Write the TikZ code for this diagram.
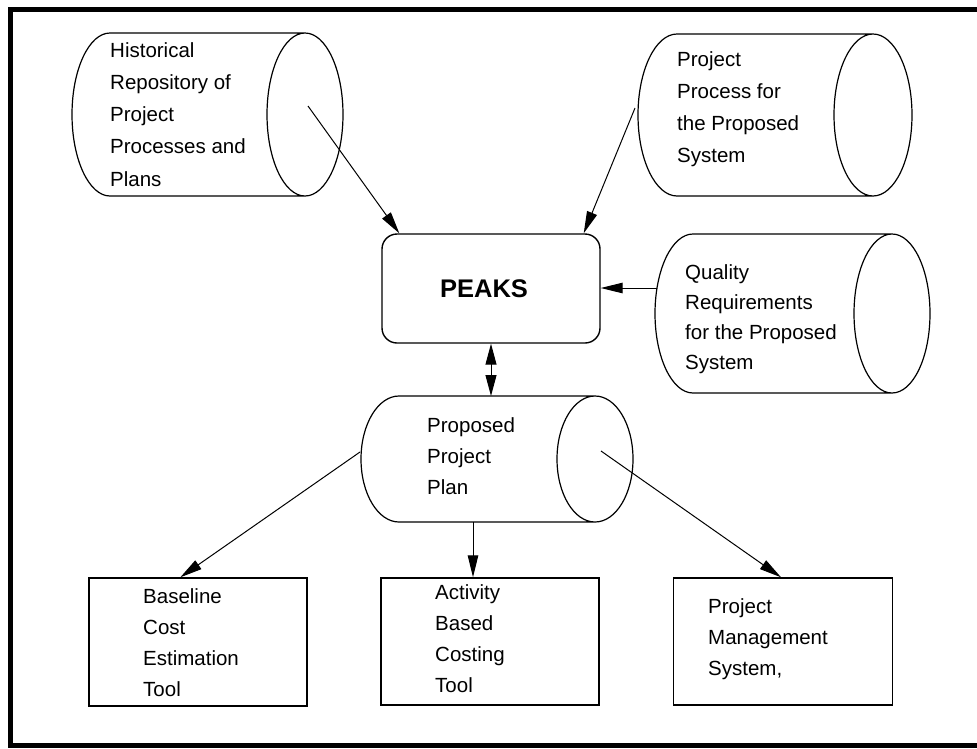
\documentclass[tikz,border=0pt]{standalone}
\usepackage{fontspec}
\setmainfont{Liberation Sans}
\usetikzlibrary{arrows.meta}
\newcommand\drawcyl[6]{%
  \draw[outline] (#1,#3) -- (#2,#3)
    arc[start angle=90,end angle=-90,x radius=#5pt,y radius=#6pt]
    -- (#1,#4)
    arc[start angle=270,end angle=90,x radius=#5pt,y radius=#6pt] -- cycle
    (#2,#3) arc[start angle=90,end angle=270,x radius=#5pt,y radius=#6pt];}
\begin{document}
\begin{tikzpicture}[x=1pt,y=-1pt,
  outline/.style={line width=1.2pt},
  boxnode/.style={draw, line width=1.4pt, inner sep=0pt},
  arr/.style={line width=1pt, -{Triangle[length=22pt,width=10.5pt]}},
  darr/.style={line width=1pt, {Triangle[length=21pt,width=11pt]}-{Triangle[length=21pt,width=11pt]}},
  txt/.style={font=\fontsize{20.5}{31}\selectfont, align=left, anchor=north west, inner sep=0pt},
  txtwide/.style={txt, font=\fontsize{20.5}{32.3}\selectfont},
  txtnarrow/.style={txt, font=\fontsize{20.5}{30}\selectfont}]
\useasboundingbox (0,0) rectangle (977,748);
% frame
\draw[line width=5pt] (10,9) rectangle (995,745.5);

% cylinders
\drawcyl{110}{305}{33}{196}{38}{81.5}
\drawcyl{677}{873}{34}{196}{39}{81}
\drawcyl{693}{892}{234}{393}{38}{79.5}
\drawcyl{399}{595}{396}{522}{38}{63}

% cylinder texts
\node[txtwide] (hist) at (110,42) {Historical\\Repository of\\Project\\Processes and\\Plans};
\node[txtwide] (proc) at (677,51) {Project\\Process for\\the Proposed\\System};
\node[txtnarrow] (qual) at (685,264) {Quality\\Requirements\\for the Proposed\\System};
\node[txt] (plan) at (427,417) {Proposed\\Project\\Plan};

% PEAKS
\node[boxnode, rounded corners=15pt, minimum width=218pt, minimum height=109pt,
      font=\fontsize{25.5}{30}\bfseries\selectfont] (peaks) at (491,288.5) {\hspace*{-14pt}PEAKS};

% bottom boxes
\node[boxnode, minimum width=218pt, minimum height=128pt] (box1) at (198,642) {};
\node[boxnode, minimum width=218pt, minimum height=127pt] (box2) at (490,641.5) {};
\node[boxnode, minimum width=219.5pt, minimum height=127pt] (box3) at (783,641.5) {};
\node[txt] (base) at (143,588) {Baseline\\Cost\\Estimation\\Tool};
\node[txt] (abc) at (435,584) {Activity\\Based\\Costing\\Tool};
\node[txt] (pms) at (708,598) {Project\\Management\\System,};

% connector anchors on cylinders
\coordinate (hist-out) at (308,106);
\coordinate (proc-out) at (635,108);
\coordinate (qual-in) at (657,288);
\coordinate (plan-t) at (492,396);
\coordinate (plan-l) at (360,452);
\coordinate (plan-r) at (601,451);
\coordinate (plan-b) at (473,522);

% connectors
\draw[arr] (hist-out) -- ([xshift=18pt]peaks.north west);
\draw[arr] (proc-out) -- ([xshift=-17pt]peaks.north east);
\draw[arr] (qual-in) -- (qual-in -| peaks.east);
\draw[darr] (peaks.south) -- (peaks.south |- plan-t);
\draw[arr] (plan-l) -- ([xshift=92pt]box1.north west);
\draw[arr] (plan-b) -- (plan-b |- box2.north);
\draw[arr] (plan-r) -- ([xshift=108.5pt]box3.north west);
\end{tikzpicture}
\end{document}
